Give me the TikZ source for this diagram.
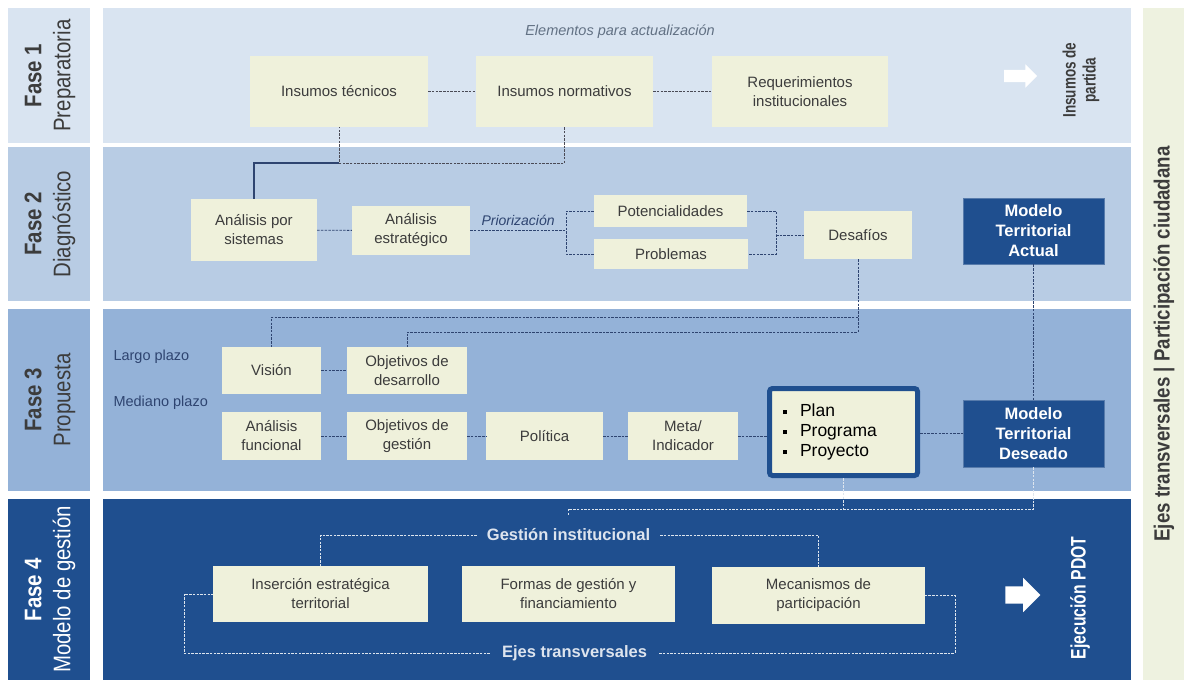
\documentclass[tikz,border=0pt]{standalone}
\usepackage{fontspec}
\setmainfont{Liberation Sans}
\newfontfamily\estrecha[FakeStretch=0.85]{Liberation Sans}
\newfontfamily\muyestrecha[FakeStretch=0.75]{Liberation Sans}
\usepackage{tikz}
\usetikzlibrary{shapes.arrows}
\usepackage{xcolor}
\definecolor{fase1}{HTML}{D9E4F1}
\definecolor{fase2}{HTML}{B8CCE4}
\definecolor{fase3}{HTML}{94B2D8}
\definecolor{fase4}{HTML}{1F4F8F}
\definecolor{crema}{HTML}{EFF1DB}
\definecolor{ejes}{HTML}{EEF2E0}
\definecolor{texto}{HTML}{3C3C3C}
\definecolor{linea}{HTML}{2E4470}
\definecolor{gris}{HTML}{4A4A55}

\begin{document}
\begin{tikzpicture}[x=1pt,y=-1pt,
   caja/.style={fill=crema,text=texto,align=center,inner sep=0pt,font=\fontsize{15}{19}\selectfont},
   modelo/.style={fill=fase4,draw=fase4!75!white,line width=0.8pt,text=white,align=center,inner sep=0pt,
      font=\bfseries\fontsize{16.5}{20}\selectfont,minimum width=141pt,minimum height=66pt},
   fase/.style={rotate=90,align=center,text=texto,font=\estrecha\fontsize{24}{29}\selectfont},
   conector/.style={draw=linea,line width=0.9pt,dash pattern=on 2.5pt off 1.2pt},
   congris/.style={draw=gris,line width=0.9pt,dash pattern=on 2.5pt off 1.2pt},
   conblanco/.style={draw=white!85!fase4,line width=0.9pt,dash pattern=on 2.5pt off 1.2pt},
   flecha/.style={single arrow,fill=white,draw=none,inner xsep=0pt}]
  \useasboundingbox (0,0) rectangle (1184,683);
  \fill[white] (0,0) rectangle (1184,683);
  % bandas
  \fill[fase1] (8,8) rectangle (90,143);   \fill[fase1] (103,8) rectangle (1131,143);
  \fill[fase2] (8,147) rectangle (90,301); \fill[fase2] (103,147) rectangle (1131,301);
  \fill[fase3] (8,309) rectangle (90,491); \fill[fase3] (103,309) rectangle (1131,491);
  \fill[fase4] (8,499) rectangle (90,680); \fill[fase4] (103,499) rectangle (1131,680);
  \fill[ejes] (1143,8) rectangle (1184,680);
  \node[fase] (f1) at (50,75.5) {\bfseries Fase 1\\Preparatoria};
  \node[fase] (f2) at (50,224) {\bfseries Fase 2\\Diagnóstico};
  \node[fase] (f3) at (50,400) {\bfseries Fase 3\\Propuesta};
  \node[fase,text=white] (f4) at (50,589.5) {\bfseries Fase 4\\Modelo de gestión};
  \node[rotate=90,text=texto,font=\estrecha\bfseries\fontsize{22}{26}\selectfont] (ejt) at (1164,344) {Ejes transversales | Participación ciudadana};

  % fase 1
  \node[text=gray!70!fase4,font=\itshape\fontsize{14.5}{16}\selectfont] (elem) at (620,32) {Elementos para actualización};
  \node[caja,minimum width=178pt,minimum height=71pt] (tec) at (339,91.5) {Insumos técnicos};
  \node[caja,minimum width=177pt,minimum height=71pt] (norm) at (564.5,91.5) {Insumos normativos};
  \node[caja,minimum width=176pt,minimum height=71pt] (req) at (800,91.5) {Requerimientos\\institucionales};
  \node[flecha,minimum height=33pt,inner ysep=6pt,single arrow head extend=5.5pt] (fl1) at (1017.5,76) {};
  \node[rotate=90,align=center,text=texto,font=\muyestrecha\bfseries\fontsize{18}{20}\selectfont] (ins) at (1081,80) {Insumos de\\partida};
  \draw[congris] (tec) -- (norm);
  \draw[congris] (norm) -- (req);

  % fase 2
  \node[caja,minimum width=126pt,minimum height=62pt] (sis) at (254,230) {Análisis por\\sistemas};
  \node[caja,minimum width=118pt,minimum height=49pt] (est) at (411,230.5) {Análisis\\estratégico};
  \node[caja,minimum width=153pt,minimum height=32pt] (pot) at (670.5,211) {Potencialidades};
  \node[caja,minimum width=154pt,minimum height=30pt] (prob) at (671,254) {Problemas};
  \node[caja,minimum width=108pt,minimum height=48pt] (des) at (858,235) {Desafíos};
  \node[modelo] (mta) at (1033.5,231) {Modelo\\Territorial\\Actual};
  \coordinate (j1) at (339,163);
  \draw[congris] (norm.south) |- (j1) -- (tec.south);
  \draw[draw=linea,line width=1.2pt] (j1) -| (sis.north);
  \coordinate (b1) at (566,230.5);
  \coordinate (b2) at (776,235);
  \draw[conector] (sis) -- (est);
  \draw[conector] (est.east) -- node[above=1pt,text=linea,font=\itshape\fontsize{14}{16}\selectfont] (prio) {Priorización} (b1);
  \draw[conector] (pot.west) -| (b1) |- (prob.west);
  \draw[conector] (pot.east) -| (b2) |- (prob.east);
  \draw[conector] (b2) -- (des.west);

  % fase 3
  \node[anchor=west,text=linea,font=\fontsize{14.5}{16}\selectfont] (lp) at (110,357) {Largo plazo};
  \node[anchor=west,text=linea,font=\fontsize{14.5}{16}\selectfont] (mp) at (110,403) {Mediano plazo};
  \node[caja,minimum width=99pt,minimum height=47pt] (vis) at (271.5,370.5) {Visión};
  \node[caja,minimum width=120pt,minimum height=47pt] (obd) at (407,370.5) {Objetivos de\\desarrollo};
  \node[caja,minimum width=99pt,minimum height=48pt] (afu) at (271.5,436) {Análisis\\funcional};
  \node[caja,minimum width=120pt,minimum height=48pt] (ogs) at (407,436) {Objetivos de\\gestión};
  \node[caja,minimum width=117pt,minimum height=48pt] (pol) at (544.5,436) {Política};
  \node[caja,minimum width=110pt,minimum height=48pt] (met) at (683,436) {Meta/\\Indicador};
  \node[caja,draw=fase4,line width=5pt,rounded corners=3pt,minimum width=148pt,minimum height=87pt,
     text width=122pt,align=left,text=black,font=\fontsize{17.5}{20}\selectfont] (plan) at (843.5,432)
     {\rule[2.5pt]{4.5pt}{4.5pt}\hspace{13pt}Plan\\\rule[2.5pt]{4.5pt}{4.5pt}\hspace{13pt}Programa\\\rule[2.5pt]{4.5pt}{4.5pt}\hspace{13pt}Proyecto};
  \node[modelo,minimum height=67pt] (mtd) at (1033.5,433.5) {Modelo\\Territorial\\Deseado};
  \coordinate (d1) at (858,317);
  \coordinate (d2) at (858,332);
  \draw[conector] (des.south) -- (d2) -| (obd.north);
  \draw[conector] (d1) -| (vis.north);
  \draw[conector] (vis) -- (obd);
  \draw[conector] (afu) -- (ogs);
  \draw[conector] (ogs) -- (pol);
  \draw[conector] (pol) -- (met);
  \draw[conector] (met.east) -- (met.east -| plan.west);
  \draw[conector] (plan.east |- mtd.west) -- (mtd.west);
  \draw[conector] (mta) -- (mtd);

  % fase 4
  \node[caja,minimum width=215pt,minimum height=56pt] (ins4) at (320.5,594) {Inserción estratégica\\territorial};
  \node[caja,minimum width=213pt,minimum height=56pt] (fin) at (568.5,594) {Formas de gestión y\\financiamiento};
  \node[caja,minimum width=213pt,minimum height=57pt] (mec) at (818.5,595.5) {Mecanismos de\\participación};
  \node[text=white!85!fase4,inner xsep=10pt,font=\bfseries\fontsize{16.5}{18}\selectfont] (ges) at (568.5,535) {Gestión institucional};
  \node[text=white!85!fase4,inner xsep=12pt,font=\bfseries\fontsize{16.5}{18}\selectfont] (ejs) at (574.5,653) {Ejes transversales};
  \node[flecha,minimum height=35pt,inner ysep=8.5pt,single arrow head extend=8.5pt] (fl4) at (1018.5,595) {};
  \node[rotate=90,text=white,font=\muyestrecha\bfseries\fontsize{21}{23}\selectfont] (eje) at (1080,598) {Ejecución PDOT};
  \coordinate (g1) at (568,515);
  \coordinate (g2) at (1033.5,509);
  \coordinate (e1) at (184,653);
  \coordinate (e2) at (955,653);
  \draw[conblanco] (mtd.south) -- (g2) -| (g1);
  \draw[conblanco] (plan.south) -- (plan.south |- g2);
  \draw[conblanco] (ges.west) -| (ins4.north);
  \draw[conblanco] (ges.east) -| (mec.north);
  \draw[conblanco] (ejs.west) -- (e1) |- (ins4.west);
  \draw[conblanco] (ejs.east) -- (e2) |- (mec.east);
\end{tikzpicture}
\end{document}
